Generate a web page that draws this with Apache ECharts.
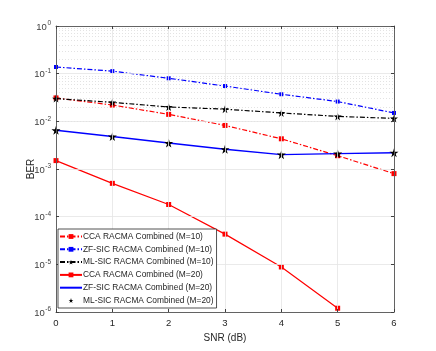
<!DOCTYPE html>
<html>
<head>
<meta charset="utf-8">
<script src="https://cdn.jsdelivr.net/npm/echarts@6/dist/echarts.min.js"></script>
<style>
  html, body { margin: 0; padding: 0; background: #fff; }
  #chart { width: 436px; height: 351px; }
</style>
</head>
<body>
<div id="chart"></div>
<script>
const snr = [0, 1, 2, 3, 4, 5, 6]
const xTicks = ['0', '1', '2', '3', '4', '5', '6']
const yTickExps = [0, -1, -2, -3, -4, -5, -6]

const ccaM10 = [0.031, 0.022, 0.014, 0.0082, 0.0043, 0.0019, 0.0008]
const zfM10 = [0.138, 0.113, 0.08, 0.055, 0.037, 0.026, 0.015]
const mlM10 = [0.03, 0.025, 0.02, 0.018, 0.015, 0.0127, 0.0115]
const ccaM20 = [0.0015, 0.0005, 0.00018, 0.000043, 0.0000088, 0.0000012]
const zfM20 = [0.0065, 0.0048, 0.0035, 0.0026, 0.002, 0.0021, 0.0022]
const mlM20 = [0.0065, 0.0048, 0.0035, 0.0026, 0.002, 0.0021, 0.0022]

const names = [
  'CCA RACMA Combined (M=10)',
  'ZF-SIC RACMA Combined (M=10)',
  'ML-SIC RACMA Combined (M=10)',
  'CCA RACMA Combined (M=20)',
  'ZF-SIC RACMA Combined (M=20)',
  'ML-SIC RACMA Combined (M=20)'
]

const star = 'path://M50,0 L61,35 L98,35 L68,57 L79,91 L50,70 L21,91 L32,57 L2,35 L39,35 Z'
const pairs = arr => arr.map((v, i) => [snr[i], v])

// dotted minor grid lines at 2..9 x 10^k
const minorLines = []
for (let k = -6; k < 0; k++) {
  for (let m = 2; m <= 9; m++) minorLines.push({ yAxis: m * Math.pow(10, k) })
}

const axisColor = '#404040'
const dashDot = [5, 2, 1.5, 2]
const chart = echarts.init(document.getElementById('chart'))
chart.setOption({
  backgroundColor: '#fff',
  animation: false,
  textStyle: { fontFamily: 'Liberation Sans, Arial, sans-serif' },
  grid: { left: 56, right: 42, top: 26, bottom: 39 },
  legend: {
    data: names.map((n, i) => i === 4 ? { name: n, itemStyle: { opacity: 0 } } : n),
    orient: 'vertical',
    left: 58,
    top: 229,
    padding: [2, 3, 2, 1],
    itemWidth: 22,
    itemHeight: 6,
    itemGap: 1.8,
    backgroundColor: '#fff',
    borderColor: '#262626',
    borderWidth: 0.8,
    z: 10,
    textStyle: { fontSize: 8.4, lineHeight: 11, color: '#262626', padding: [0, 0, 0, -4] }
  },
  xAxis: [{
    type: 'value',
    min: 0,
    max: 6,
    interval: 1,
    name: 'SNR (dB)',
    nameLocation: 'middle',
    nameGap: 19,
    nameTextStyle: { fontSize: 10, color: '#262626' },
    axisLine: { lineStyle: { color: axisColor, width: 0.8 } },
    axisTick: { inside: true, length: 3, lineStyle: { color: axisColor } },
    axisLabel: { fontSize: 9.5, color: '#262626', margin: 6, formatter: v => xTicks[v] },
    splitLine: { show: true, lineStyle: { color: '#e5e5e5', width: 0.8 } },
    z: 5
  }, {
    type: 'value',
    position: 'top',
    min: 0,
    max: 6,
    interval: 1,
    axisLine: { show: true, lineStyle: { color: axisColor, width: 0.8 } },
    axisTick: { inside: true, length: 3, lineStyle: { color: axisColor } },
    axisLabel: { show: false },
    splitLine: { show: false },
    z: 5
  }],
  yAxis: [{
    type: 'log',
    min: 1e-6,
    max: 1,
    logBase: 10,
    name: 'BER',
    nameLocation: 'middle',
    nameGap: 20,
    nameMoveOverlap: false,
    nameTextStyle: { fontSize: 10, color: '#262626' },
    axisLine: { show: true, onZero: false, lineStyle: { color: axisColor, width: 0.8 } },
    axisTick: { show: true, inside: true, length: 3, lineStyle: { color: axisColor } },
    axisLabel: {
      margin: 5,
      formatter: v => {
        const e = Math.round(Math.log10(v))
        if (!yTickExps.includes(e)) return ''
        return '{b|10}{s|' + e + '}'
      },
      rich: {
        b: { fontSize: 9.5, color: '#404040', verticalAlign: 'bottom' },
        s: { fontSize: 6.5, color: '#404040', verticalAlign: 'bottom', padding: [0, 0, 5, 0.5] }
      }
    },
    splitLine: { show: true, lineStyle: { color: '#e5e5e5', width: 0.8 } },
    z: 5
  }, {
    type: 'log',
    min: 1e-6,
    max: 1,
    logBase: 10,
    position: 'right',
    axisLine: { show: true, onZero: false, lineStyle: { color: axisColor, width: 0.8 } },
    axisTick: { show: true, inside: true, length: 3, lineStyle: { color: axisColor } },
    axisLabel: { show: false },
    splitLine: { show: false },
    z: 5
  }],
  series: [
    {
      name: names[0], type: 'line', data: pairs(ccaM10), z: 3,
      symbol: 'rect', symbolSize: 5,
      itemStyle: { color: '#ff0000' },
      lineStyle: { color: '#ff0000', width: 1.2, type: dashDot },
      markLine: {
        silent: true, symbol: 'none', label: { show: false }, z: 1,
        lineStyle: { color: '#dcdcdc', width: 0.8, type: [1, 2] },
        data: minorLines
      }
    },
    {
      name: names[1], type: 'line', data: pairs(zfM10), z: 3,
      symbol: 'rect', symbolSize: 4,
      itemStyle: { color: '#0000ff' },
      lineStyle: { color: '#0000ff', width: 1.2, type: dashDot }
    },
    {
      name: names[2], type: 'line', data: pairs(mlM10), z: 3,
      symbol: star, symbolSize: 8,
      itemStyle: { color: '#000' },
      lineStyle: { color: '#000', width: 1.2, type: dashDot }
    },
    {
      name: names[3], type: 'line', data: pairs(ccaM20), z: 3,
      symbol: 'rect', symbolSize: 5,
      itemStyle: { color: '#ff0000' },
      lineStyle: { color: '#ff0000', width: 1.2 }
    },
    {
      name: names[4], type: 'line', data: pairs(zfM20), z: 3,
      symbol: 'none',
      itemStyle: { color: '#0000ff' },
      lineStyle: { color: '#0000ff', width: 1.4 }
    },
    {
      name: names[5], type: 'line', data: pairs(mlM20), z: 4,
      symbol: star, symbolSize: 9,
      itemStyle: { color: '#000' },
      lineStyle: { width: 0 }
    }
  ]
})
</script>
</body>
</html>
